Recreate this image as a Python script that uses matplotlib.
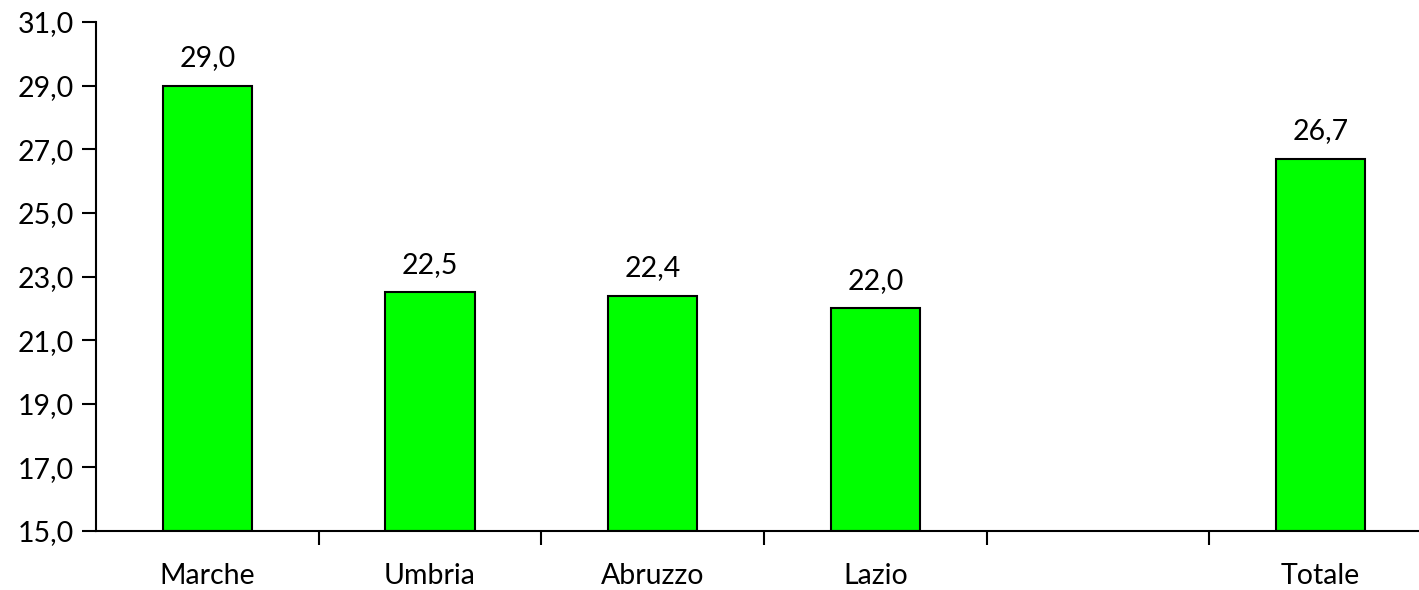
import numpy as np
import matplotlib
matplotlib.use("Agg")
import matplotlib.pyplot as plt
from matplotlib.ticker import FixedLocator, NullFormatter

# data
categories = ["Marche", "Umbria", "Abruzzo", "Lazio", "", "Totale"]
values = [29.0, 22.5, 22.4, 22.0, None, 26.7]
yticks = [15, 17, 19, 21, 23, 25, 27, 29, 31]

plt.rcParams['font.family'] = ['Lato', 'DejaVu Sans']
FS = 20.5

fig = plt.figure(figsize=(14.19, 5.90), dpi=100)
ax = fig.add_axes([96 / 1419, 1 - 531 / 590, 1336 / 1419, 509 / 590])

x = np.arange(len(categories))
for xi, v in zip(x, values):
    if v is None:
        continue
    ax.bar(xi, v - 15, bottom=15, width=0.40, color="#00ff00",
           edgecolor="black", linewidth=1.5, zorder=2)
    ax.text(xi, v + 0.45, f"{v:.1f}".replace(".", ","), ha="center",
            va="bottom", fontsize=FS)

ax.set_xlim(-0.5, len(categories) - 0.5)
ax.set_ylim(15, 31)
ax.set_yticks(yticks)
ax.set_yticklabels([f"{t:.1f}".replace(".", ",") for t in yticks], fontsize=FS)

# category labels centered, ticks on boundaries
ax.set_xticks(x)
ax.set_xticklabels(categories, fontsize=FS)
ax.tick_params(axis="x", which="major", length=0, pad=23)
ax.xaxis.set_minor_locator(FixedLocator(np.arange(0.5, len(categories) - 0.5, 1)))
ax.xaxis.set_minor_formatter(NullFormatter())
ax.tick_params(axis="x", which="minor", length=10, width=1.5, direction="out")
ax.tick_params(axis="y", length=10, width=1.5, direction="out", pad=6)

for s in ["top", "right"]:
    ax.spines[s].set_visible(False)
for s in ["left", "bottom"]:
    ax.spines[s].set_linewidth(1.5)

fig.savefig("out.png", dpi=100)
